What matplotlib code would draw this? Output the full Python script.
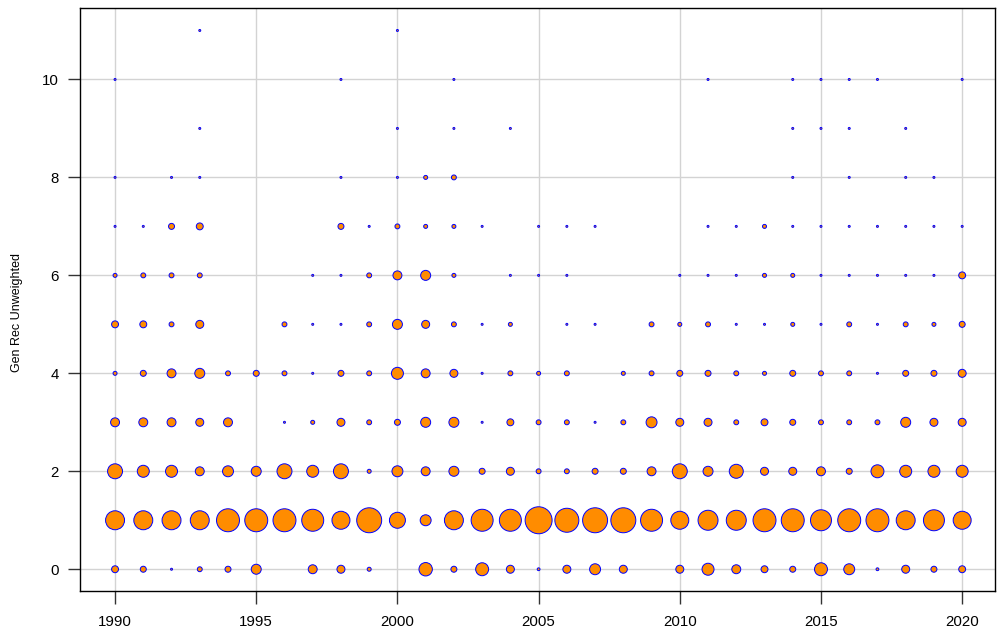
import numpy as np
import matplotlib
matplotlib.use('Agg')
import matplotlib.pyplot as plt

plt.rcParams['font.family'] = ['Liberation Sans', 'DejaVu Sans']

years = list(range(1990, 2021))
gen_rec = list(range(0, 12))

# counts per year for each Gen Rec value (bubble area ~ count)
n_0 = [12, 9, 1, 6, 9, 25, 0, 20, 16, 4, 0, 45, 9, 42, 16, 2, 16, 30, 16, 0, 16, 36, 20, 12, 9, 42, 30, 2, 16, 9, 12]
n_1 = [90, 90, 90, 90, 132, 132, 132, 121, 81, 156, 64, 30, 90, 121, 121, 182, 144, 156, 156, 121, 81, 100, 100, 132, 132, 110, 132, 132, 90, 110, 81]
n_2 = [56, 36, 36, 20, 30, 25, 56, 36, 56, 4, 30, 20, 25, 9, 16, 6, 6, 9, 9, 20, 56, 25, 49, 16, 16, 20, 9, 42, 36, 36, 36]
n_3 = [20, 20, 20, 16, 20, 0, 1, 4, 16, 6, 9, 25, 25, 1, 12, 6, 6, 1, 6, 30, 16, 16, 6, 12, 9, 6, 6, 6, 25, 16, 16]
n_4 = [4, 9, 20, 25, 6, 9, 6, 1, 9, 6, 36, 20, 16, 1, 6, 4, 6, 0, 4, 6, 9, 9, 6, 4, 9, 6, 6, 1, 9, 9, 16]
n_5 = [12, 12, 6, 16, 0, 0, 6, 1, 1, 6, 25, 16, 6, 1, 4, 0, 1, 1, 0, 6, 4, 6, 1, 1, 4, 1, 6, 1, 6, 4, 9]
n_6 = [4, 6, 6, 6, 0, 0, 0, 1, 1, 6, 20, 25, 4, 0, 1, 1, 1, 0, 0, 0, 1, 1, 1, 4, 4, 1, 1, 1, 1, 1, 12]
n_7 = [1, 1, 9, 12, 0, 0, 0, 0, 9, 1, 6, 4, 4, 1, 0, 1, 1, 1, 0, 0, 0, 1, 1, 4, 1, 1, 1, 1, 1, 1, 1]
n_8 = [1, 0, 1, 1, 0, 0, 0, 0, 1, 0, 1, 4, 6, 0, 0, 0, 0, 0, 0, 0, 0, 0, 0, 0, 1, 0, 1, 0, 1, 1, 0]
n_9 = [0, 0, 0, 1, 0, 0, 0, 0, 0, 0, 1, 0, 1, 0, 1, 0, 0, 0, 0, 0, 0, 0, 0, 0, 1, 1, 1, 0, 1, 0, 0]
n_10 = [1, 0, 0, 0, 0, 0, 0, 0, 1, 0, 0, 0, 1, 0, 0, 0, 0, 0, 0, 0, 0, 1, 0, 0, 1, 1, 1, 1, 0, 0, 1]
n_11 = [0, 0, 0, 1, 0, 0, 0, 0, 0, 0, 1, 0, 0, 0, 0, 0, 0, 0, 0, 0, 0, 0, 0, 0, 0, 0, 0, 0, 0, 0, 0]

counts = np.array([n_0, n_1, n_2, n_3, n_4, n_5, n_6, n_7, n_8, n_9, n_10, n_11])

xx, yy = np.meshgrid(years, gen_rec)
mask = counts > 0

fig = plt.figure(figsize=(9.98, 6.3), dpi=100, facecolor='white')
ax = fig.add_axes([0.0802, 0.062, 0.917, 0.925])

ax.grid(True, color='#d3d3d3', linewidth=1.0)
ax.set_axisbelow(True)

# diameter in px = 2*sqrt(n); 1 px = 0.72 pt
ax.scatter(xx[mask], yy[mask], s=(2 * np.sqrt(counts[mask]) * 0.72) ** 2,
           c='darkorange', edgecolors='blue', linewidths=0.7, zorder=3)

ax.set_xlim(1988.76, 2021.17)
ax.set_ylim(-0.443, 11.455)
ax.set_xticks(range(1990, 2021, 5))
ax.set_yticks(range(0, 11, 2))
ax.tick_params(axis='both', length=9, width=1, color='#333333', labelsize=10.8)
ax.tick_params(axis='x', pad=8)
ax.tick_params(axis='y', pad=6.5)
for s in ax.spines.values():
    s.set_linewidth(1.0)
    s.set_color('black')

ax.set_ylabel('Gen Rec Unweighted', fontsize=9)
ax.yaxis.set_label_coords(-0.062, 0.477)

plt.savefig('out.png', dpi=100)
